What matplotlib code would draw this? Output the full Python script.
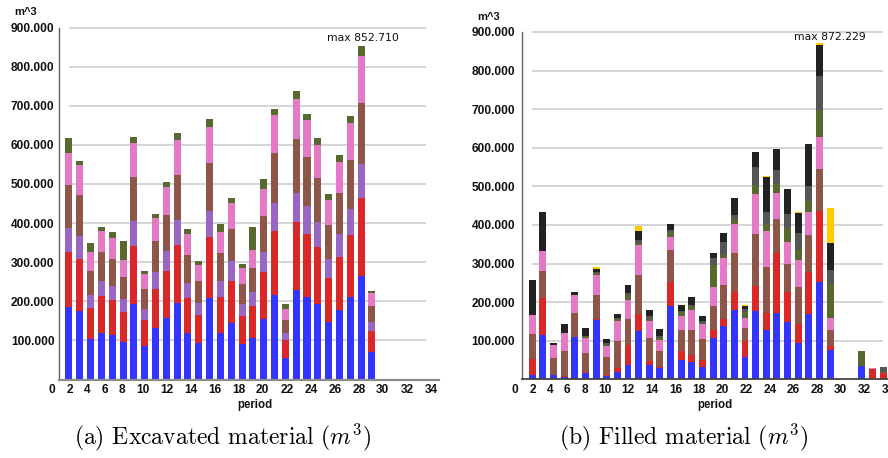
import matplotlib
matplotlib.use('Agg')
import matplotlib.pyplot as plt
from matplotlib.ticker import FuncFormatter

plt.rcParams['mathtext.fontset'] = 'cm'
plt.rcParams['axes.unicode_minus'] = False

# values in thousands of m^3, one entry per period
periods_a = list(range(1, 30))
exc_blue = [186, 176, 103, 120, 115, 97, 194, 86, 132, 158, 195, 118, 94, 208, 119,
            144, 92, 106, 155, 217, 56, 230, 211, 193, 147, 177, 210, 264, 71]
exc_red = [141, 133, 80, 93, 88, 75, 147, 66, 100, 120, 149, 91, 71, 156, 92,
           108, 70, 82, 120, 163, 44, 173, 162, 145, 113, 135, 159, 201, 52]
exc_purple = [60, 58, 34, 40, 37, 33, 63, 28, 43, 51, 65, 39, 30, 67, 41,
              50, 30, 35, 51, 72, 19, 75, 70, 64, 48, 59, 67, 87, 24]
exc_brown = [110, 104, 61, 72, 69, 57, 113, 52, 79, 92, 115, 70, 56, 123, 71,
             84, 53, 63, 91, 128, 34, 136, 125, 113, 87, 105, 125, 155, 41]
exc_pink = [83, 78, 47, 54, 52, 44, 87, 39, 58, 72, 88, 53, 42, 92, 55,
            65, 41, 46, 70, 96, 26, 103, 95, 85, 65, 79, 94, 119, 32]
exc_green = [37, 10, 23, 11, 15, 47, 17, 7, 12, 12, 19, 13, 11, 20, 20,
             12, 9, 58, 25, 16, 15, 20, 17, 18, 15, 18, 18, 26.71, 6]

periods_b = list(range(1, 35))
fil_blue = [12, 114, 10, 7, 110, 16, 154, 9, 19, 37, 124, 36, 29, 191, 51, 46, 33,
            106, 138, 180, 57, 176, 127, 171, 149, 93, 169, 253, 76, 0, 0, 34, 0, 0]
fil_red = [40, 96, 1, 2, 0, 2, 1, 1, 11, 51, 46, 12, 4, 60, 22, 17, 18,
           22, 18, 47, 42, 67, 45, 156, 77, 50, 108, 184, 9, 0, 0, 0, 27, 16]
fil_brown = [66, 70, 44, 64, 62, 51, 64, 48, 70, 68, 101, 58, 40, 85, 56, 66, 53,
             63, 89, 100, 35, 134, 120, 88, 74, 95, 98, 108, 42, 0, 0, 0, 0, 4]
fil_pink = [48, 53, 34, 46, 47, 37, 50, 28, 51, 49, 76, 46, 29, 33, 36, 50, 39,
            48, 69, 75, 26, 103, 93, 67, 55, 71, 59, 82, 33, 0, 0, 0, 1, 0]
fil_green = [0, 0, 0, 0, 0, 5, 6, 3, 5, 14, 6, 4, 4, 12, 9, 8, 4,
             56, 9, 12, 15, 23, 18, 24, 37, 26, 28, 70, 88, 0, 0, 39, 0, 0]
fil_gray = [0, 0, 0, 0, 0, 0, 4, 4, 4, 4, 7, 7, 5, 7, 3, 6, 3,
            20, 32, 12, 8, 46, 30, 37, 36, 44, 39, 90, 35, 0, 0, 0, 0, 13]
fil_black = [92, 100, 5, 24, 6, 22, 8, 12, 9, 21, 25, 16, 20, 14, 15, 19, 15,
             13, 24, 43, 7, 40, 92, 53, 64, 53, 108, 79, 69, 0, 0, 0, 0, 0]
fil_gold = [0, 0, 0, 0, 0, 0, 3, 0, 0, 0, 13, 0, 0, 0, 0, 1, 0,
            0, 0, 0, 3, 0, 2, 1, 0, 2, 2, 6.229, 92, 0, 0, 0, 0, 0]

tick_vals = [100, 200, 300, 400, 500, 600, 700, 800, 900]
xtick_labels = [str(n) for n in range(2, 35, 2)]
# category labels are laid out one after another, not under the bars
xtick_pos = [1.05, 2.67, 4.29, 5.91, 7.81, 10.03, 12.25, 14.47, 16.69, 18.91,
             21.13, 23.35, 25.57, 27.79, 30.01, 32.23, 34.45]

BLUE, RED, PURPLE, BROWN = '#3434FF', '#DA2828', '#9A66C4', '#8E5649'
PINK, GREEN, GRAY, BLACK, GOLD = '#E479C6', '#57692F', '#555555', '#222222', '#FFCC00'

TICKFONT = dict(family='Liberation Sans', weight='bold', size=8.6)


def thousands(v, pos):
    return f"{int(round(v * 1000)):,}".replace(',', '.')


def stacked(ax, x, series, colors):
    bottom = [0] * len(x)
    for vals, c in zip(series, colors):
        ax.bar(x, vals, 0.65, bottom=bottom, color=c, linewidth=0, zorder=2)
        bottom = [b + v for b, v in zip(bottom, vals)]
    return bottom


def style(ax, xmax, ypad, bottom_color, bottom_lw):
    ax.set_ylim(0, 900)
    ax.set_xlim(ax.get_xlim()[0], xmax)
    ax.hlines(tick_vals, 1, 34, colors='#d2d2d2', lw=1.3, zorder=0, clip_on=False)
    for s in ('top', 'right'):
        ax.spines[s].set_visible(False)
    ax.spines['left'].set_color('#606060')
    ax.spines['left'].set_linewidth(1.0)
    ax.spines['bottom'].set_color(bottom_color)
    ax.spines['bottom'].set_linewidth(bottom_lw)
    ax.set_yticks(tick_vals)
    ax.yaxis.set_major_formatter(FuncFormatter(thousands))
    ax.set_xticks(xtick_pos)
    ax.set_xticklabels(xtick_labels)
    ax.tick_params(axis='y', length=0, pad=ypad)
    ax.tick_params(axis='x', length=0, pad=3.2)
    for lab in ax.get_xticklabels() + ax.get_yticklabels():
        lab.set_fontproperties(TICKFONT)
        lab.set_color('#111111')
    ax.annotate('0', xy=(-0.6, 0), xycoords=('data', 'axes fraction'),
                xytext=(0, -3.2), textcoords='offset points', ha='center', va='top',
                annotation_clip=False, color='#111111', **TICKFONT)
    ax.annotate('period', xy=(18.2, 0), xycoords=('data', 'axes fraction'),
                xytext=(0, -18.3), textcoords='offset points', ha='center', va='center',
                annotation_clip=False, color='#111111', family='Liberation Sans',
                weight='bold', size=8.3)
    ax.annotate('m^3', xy=(0, 1), xycoords='axes fraction', xytext=(-24, 11),
                textcoords='offset points', ha='center', va='center',
                annotation_clip=False, color='#111111', family='Liberation Sans',
                weight='bold', size=8)


def mark_max(ax, x, totals, dx, dy):
    i = max(range(len(totals)), key=lambda k: totals[k])
    ax.annotate(f"max {thousands(totals[i], None)}", xy=(x[i], totals[i]),
                xytext=(dx, dy), textcoords='offset points', ha='center',
                va='bottom', family='DejaVu Sans', size=7.8, color='#111111',
                annotation_clip=False)


fig = plt.figure(figsize=(8.88, 4.58), dpi=100)

ax1 = fig.add_axes([59 / 888, (458 - 379.5) / 458, 380 / 888, 352 / 458])
ax1.set_xlim(0.08, 35.2)
tot_a = stacked(ax1, periods_a,
                [exc_blue, exc_red, exc_purple, exc_brown, exc_pink, exc_green],
                [BLUE, RED, PURPLE, BROWN, PINK, GREEN])
style(ax1, 35.2, 3.2, '#8c8c8c', 1.6)
mark_max(ax1, periods_a, tot_a, 1.5, 2.0)

ax2 = fig.add_axes([522 / 888, (458 - 379.3) / 458, 366 / 888, 347.3 / 458])
ax2.set_xlim(0.03, 34.43)
tot_b = stacked(ax2, periods_b,
                [fil_blue, fil_red, fil_brown, fil_pink, fil_green, fil_gray,
                 fil_black, fil_gold],
                [BLUE, RED, BROWN, PINK, GREEN, GRAY, BLACK, GOLD])
style(ax2, 34.43, 5.0, '#444444', 1.3)
mark_max(ax2, periods_b, tot_b, 7.5, 0.6)

fig.text(222 / 888, 1 - 437 / 458, r'(a) Excavated material ($m^3$)',
         ha='center', va='center', family='cmr10', size=17)
fig.text(683 / 888, 1 - 437 / 458, r'(b) Filled material ($m^3$)',
         ha='center', va='center', family='cmr10', size=17)

fig.savefig('out.png', dpi=100)
